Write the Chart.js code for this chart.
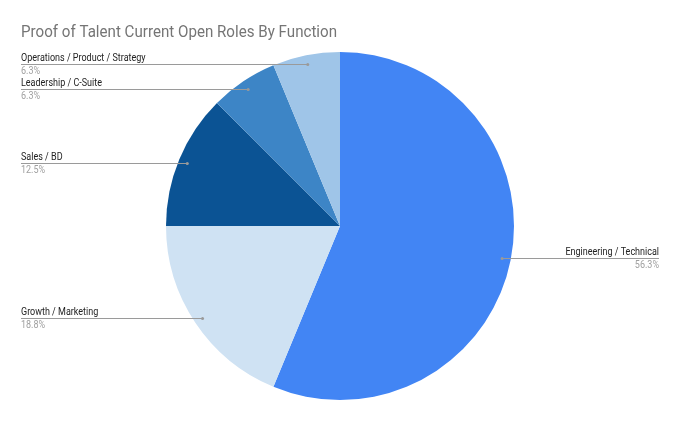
<!DOCTYPE html>
<html>
<head>
<meta charset="utf-8">
<script src="https://cdn.jsdelivr.net/npm/chart.js@4"></script>
<style>
  html, body { margin: 0; padding: 0; background: #fff; }
  #wrap { width: 680px; height: 421px; }
</style>
</head>
<body>
<div id="wrap"><canvas id="pieChart" width="680" height="421"></canvas></div>
<script>
var labels = ["Engineering / Technical", "Growth / Marketing", "Sales / BD", "Leadership / C-Suite", "Operations / Product / Strategy"];
var roles = [9, 3, 2, 1, 1];
var colors = ["#4285f4", "#cfe2f3", "#0b5394", "#3d85c6", "#9fc5e8"];
var title = "Proof of Talent Current Open Roles By Function";

// text a bit narrower than Roboto, like the Sheets export
function narrowText(ctx, text, x, y, sx) {
  ctx.save();
  ctx.translate(x, y);
  ctx.scale(sx, 1);
  ctx.fillText(text, 0, 0);
  ctx.restore();
}

// draws title + leader line labels like a Sheets pie
var calloutPlugin = {
  id: 'callouts',
  afterDraw: function(chart) {
    var ctx = chart.ctx;
    ctx.save();
    ctx.font = '17px Roboto';
    ctx.fillStyle = '#757575';
    ctx.textAlign = 'left';
    ctx.textBaseline = 'alphabetic';
    narrowText(ctx, title, 21, 37, 0.89);

    var total = roles.reduce(function(a, b) { return a + b; }, 0);
    var arcs = chart.getDatasetMeta(0).data;
    arcs.forEach(function(arc, i) {
      var mid = (arc.startAngle + arc.endAngle) / 2;
      var r = arc.outerRadius * 0.95;
      var ax = arc.x + Math.cos(mid) * r;
      var ay = Math.round(arc.y + Math.sin(mid) * r);
      var pct = (roles[i] / total * 100).toFixed(1) + '%';
      var left = ax < arc.x;
      var x0 = left ? 21 : ax;
      var x1 = left ? ax : 659;

      ctx.strokeStyle = '#9a9a9a';
      ctx.lineWidth = 1;
      ctx.beginPath();
      ctx.moveTo(x0, ay + 0.5);
      ctx.lineTo(x1, ay + 0.5);
      ctx.stroke();
      ctx.fillStyle = '#9a9a9a';
      ctx.beginPath();
      ctx.arc(ax, ay + 0.5, 1.5, 0, Math.PI * 2);
      ctx.fill();

      ctx.font = '10px Roboto';
      ctx.textAlign = 'left';
      var sx = 0.9;
      var lw = ctx.measureText(labels[i]).width * sx;
      var pw = ctx.measureText(pct).width * sx;
      ctx.fillStyle = '#222';
      narrowText(ctx, labels[i], left ? 21 : 659 - lw, ay - 3, sx);
      ctx.fillStyle = '#a0a0a0';
      narrowText(ctx, pct, left ? 21 : 659 - pw, ay + 10, sx);
    });
    ctx.restore();
  }
};

new Chart(document.getElementById('pieChart'), {
  type: 'pie',
  data: {
    labels: labels,
    datasets: [{
      data: roles,
      backgroundColor: colors,
      borderWidth: 0
    }]
  },
  options: {
    responsive: false,
    animation: false,
    layout: { padding: { top: 52, bottom: 21, left: 0, right: 0 } },
    plugins: {
      legend: { display: false },
      title: { display: false },
      tooltip: { enabled: false }
    }
  },
  plugins: [calloutPlugin]
});
</script>
</body>
</html>
